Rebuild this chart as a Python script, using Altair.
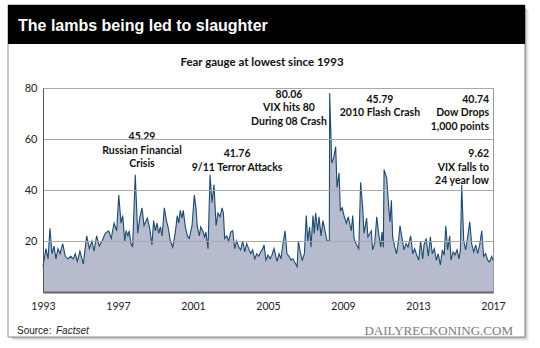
import altair as alt
import pandas as pd

# ---- data (decimal year on the chart axis, VIX level) ----
years = [
    1993.00, 1993.16, 1993.27, 1993.37, 1993.48, 1993.59, 1993.69, 1993.80, 1993.91, 1994.05,
    1994.19, 1994.33, 1994.48, 1994.62, 1994.72, 1994.83, 1994.97, 1995.15, 1995.33, 1995.47,
    1995.61, 1995.72, 1995.86, 1996.00, 1996.15, 1996.32, 1996.50, 1996.64, 1996.79, 1996.93,
    1997.04, 1997.16, 1997.25, 1997.36, 1997.43, 1997.53, 1997.60, 1997.69, 1997.78, 1997.92,
    1998.05, 1998.16, 1998.28, 1998.39, 1998.56, 1998.69, 1998.81, 1998.90, 1998.99, 1999.08,
    1999.17, 1999.26, 1999.35, 1999.47, 1999.58, 1999.67, 1999.79, 1999.92, 2000.06, 2000.16,
    2000.24, 2000.32, 2000.41, 2000.48, 2000.59, 2000.70, 2000.80, 2000.95, 2001.07,
    2001.16, 2001.23, 2001.34, 2001.41, 2001.52, 2001.62, 2001.69, 2001.80, 2001.91, 2002.01,
    2002.12, 2002.23, 2002.33, 2002.44, 2002.55, 2002.62, 2002.69, 2002.80, 2002.90, 2003.01,
    2003.12, 2003.22, 2003.33, 2003.44, 2003.54, 2003.65, 2003.76, 2003.86, 2003.97, 2004.08,
    2004.18, 2004.29, 2004.40, 2004.50, 2004.61, 2004.72, 2004.79, 2004.89, 2005.00, 2005.11,
    2005.21, 2005.32,
    2005.48, 2005.59, 2005.69, 2005.80, 2005.91, 2006.01, 2006.12, 2006.23, 2006.33, 2006.44,
    2006.55, 2006.62, 2006.72, 2006.83, 2006.94, 2007.04, 2007.12, 2007.22, 2007.29, 2007.40,
    2007.47, 2007.54, 2007.65, 2007.72, 2007.83, 2007.93, 2008.04, 2008.15, 2008.27, 2008.29,
    2008.40, 2008.50, 2008.61, 2008.68, 2008.79, 2008.86, 2008.96, 2009.07, 2009.18, 2009.28,
    2009.44, 2009.52, 2009.59, 2009.69, 2009.84, 2009.94, 2010.05, 2010.12, 2010.26, 2010.33,
    2010.51, 2010.58, 2010.69, 2010.80, 2010.90, 2011.01, 2011.08, 2011.15, 2011.19, 2011.33,
    2011.44, 2011.51, 2011.58, 2011.65, 2011.76, 2011.86, 2011.97, 2012.04, 2012.15, 2012.25,
    2012.36, 2012.47, 2012.61, 2012.72, 2012.82, 2012.93, 2013.04, 2013.14, 2013.25, 2013.32,
    2013.44, 2013.55, 2013.66, 2013.76, 2013.87, 2013.98, 2014.08, 2014.19, 2014.30, 2014.40,
    2014.48, 2014.58, 2014.69, 2014.76, 2014.87, 2014.97, 2015.08, 2015.19, 2015.26, 2015.33,
    2015.44, 2015.54, 2015.65, 2015.76, 2015.86, 2015.97, 2016.08, 2016.18, 2016.29, 2016.40,
    2016.50, 2016.61, 2016.72, 2016.82, 2016.93, 2017.00,
]
vix = [
    10, 17, 13, 25, 15, 18, 13, 17, 15, 19, 14, 13, 14, 13, 15, 12, 16, 11, 22, 17,
    20, 16, 22, 18, 20, 23, 24, 21, 27, 24,
    38, 27, 30, 20, 24, 22, 24, 19, 17.6, 46, 23, 29, 33, 26, 29, 25, 18.5, 28, 24, 27,
    23, 25.5, 22, 33, 28, 25.5, 20, 17.6, 23.5, 30, 27, 32, 29, 32, 25.5, 22, 21, 26, 38,
    33, 25.5, 22, 25.5, 24, 21.6, 23.5, 17, 46, 35, 42, 26, 31, 29.5, 33, 31, 21, 22, 20, 23.5,
    24, 17, 20, 17.6, 16.5, 20, 15.7, 19, 17, 15, 16.5, 13, 15, 14, 15.7, 17, 18.5, 12.5, 14.5, 13,
    14.5, 17,
    12, 15, 13, 19, 24, 15, 14, 12.5, 13, 11.5, 10, 20, 15.7, 12.5, 15, 30, 20, 25.5, 17.6, 30,
    23, 31, 24, 29.5, 22, 28, 24, 20, 20, 78, 50.6, 52.5, 57, 41, 46.7, 32, 33, 29.5, 27, 29.5,
    24, 30, 21, 19, 17, 43, 33, 23, 29, 21.6, 24, 16.5, 19, 29.5, 23, 17.6, 23.5, 17.6, 48, 44.7,
    33, 27.5, 36, 21.6, 17.6, 15, 21, 26, 21, 16.5, 19, 17.6, 22, 15, 17, 14.5, 12.5, 20, 13, 18.5,
    21, 14, 21.6, 15, 17, 12.5, 15, 10.6, 16.5, 14.5, 26, 16.5, 22, 12.5, 15.7, 14.5, 16.5, 13, 16.5, 42,
    20, 16.5, 21.6, 27.5, 19, 15.7, 18.5, 15, 18.5, 24, 14, 15, 12.5, 11.8, 14, 12.5,
]

x_ticks = [1993, 1997, 2001, 2005, 2009, 2013, 2017]
y_ticks = [20, 40, 60, 80]

# annotations (anchored in data units)
ann_center_text = ["45.29", "Russian Financial", "Crisis", "41.76", "9/11 Terror Attacks",
                   "80.06", "VIX hits 80", "During 08 Crash", "45.79", "2010 Flash Crash"]
ann_center_year = [1998.28, 1998.28, 1998.28, 2003.35, 2003.35,
                   2006.12, 2006.12, 2006.12, 2010.97, 2010.97]
ann_center_val = [60.8, 55.3, 50.2, 54.1, 48.6, 77.3, 72.2, 66.7, 75.3, 70.2]

ann_right_text = ["40.74", "Dow Drops", "1,000 points", "9.62", "VIX falls to", "24 year low"]
ann_right_year = [2016.79] * 6
ann_right_val = [75.3, 70.2, 64.7, 54.1, 48.6, 43.5]

TITLE = "The lambs being led to slaughter"
SUBTITLE = "Fear gauge at lowest since 1993"

W, H = 450, 204

df = pd.DataFrame({"year": years, "vix": vix})
ann_c = pd.DataFrame({"year": ann_center_year, "val": ann_center_val, "t": ann_center_text})
ann_r = pd.DataFrame({"year": ann_right_year, "val": ann_right_val, "t": ann_right_text})
one = pd.DataFrame({"k": [0]})

xs = alt.Scale(domain=[1993, 2017], nice=False, zero=False)
ys = alt.Scale(domain=[0, 80], nice=False)

area = alt.Chart(df).mark_area(color="#b6bbcd", opacity=1).encode(
    x=alt.X("year:Q", scale=xs, axis=alt.Axis(
        values=x_ticks, format="d", grid=False, ticks=False, domainColor="#666666",
        domainWidth=2, labelPadding=9, labelFont="Lato", labelFontSize=10.5,
        labelColor="#222222", title=None, labelOverlap=False, labelFlush=False, zindex=1)),
    y=alt.Y("vix:Q", scale=ys, axis=alt.Axis(
        values=y_ticks, grid=True, gridColor="#a9a9a9", ticks=False, domainColor="#555555",
        labelPadding=6, labelFont="Lato", labelFontSize=11, labelColor="#222222",
        title=None, zindex=1)),
)
line = alt.Chart(df).mark_line(color="#1c4a71", strokeWidth=1.1).encode(
    x="year:Q", y="vix:Q")

txt_c = alt.Chart(ann_c).mark_text(font="Lato", fontWeight="bold", fontSize=10.5,
                                   align="center", baseline="middle", color="#111111").encode(
    x="year:Q", y="val:Q", text="t:N")
txt_r = alt.Chart(ann_r).mark_text(font="Lato", fontWeight="bold", fontSize=10.5,
                                   align="right", baseline="middle", color="#111111").encode(
    x="year:Q", y="val:Q", text="t:N")

# ---- decorations (card, shadow, header, footer) in pixel space ----
deco = []
for i, op in enumerate([0.30, 0.18, 0.10, 0.05]):
    deco.append(alt.Chart(one).mark_rect(color="#000000", opacity=op).encode(
        x=alt.value(482 + i), x2=alt.value(483 + i), y=alt.value(-80 + i), y2=alt.value(250 + i)))
    deco.append(alt.Chart(one).mark_rect(color="#000000", opacity=op).encode(
        x=alt.value(-32 + i), x2=alt.value(482 + i), y=alt.value(249 + i), y2=alt.value(250 + i)))
card = alt.Chart(one).mark_rect(fillOpacity=0, stroke="#8c8c8c", strokeWidth=1).encode(
    x=alt.value(-35), x2=alt.value(482), y=alt.value(-83), y2=alt.value(249))
header = alt.Chart(one).mark_rect(color="#000000").encode(
    x=alt.value(-35), x2=alt.value(482), y=alt.value(-83), y2=alt.value(-44))
title = alt.Chart(one).mark_text(text=TITLE, font="Liberation Sans", fontWeight="bold",
                                 fontSize=16, color="#ffffff", align="left",
                                 baseline="middle").encode(x=alt.value(-25), y=alt.value(-62))
subtitle = alt.Chart(one).mark_text(text=SUBTITLE, font="Lato", fontWeight="bold",
                                    fontSize=11.5, color="#111111", align="center",
                                    baseline="middle").encode(x=alt.value(219), y=alt.value(-25))
src1 = alt.Chart(one).mark_text(text="Source:", font="Liberation Sans", fontSize=10,
                                color="#222222", align="left", baseline="middle").encode(
    x=alt.value(-26), y=alt.value(243))
src2 = alt.Chart(one).mark_text(text="Factset", font="Liberation Sans", fontSize=10,
                                fontStyle="italic", color="#222222", align="left",
                                baseline="middle").encode(x=alt.value(13), y=alt.value(243))
brand = alt.Chart(one).mark_text(text="DAILYRECKONING.COM", font="Liberation Serif",
                                 fontSize=13, color="#7a7a7a", align="right",
                                 baseline="middle").encode(x=alt.value(470), y=alt.value(243))

chart = alt.layer(
    *deco, card, header, title, subtitle, area, line, txt_c, txt_r, src1, src2, brand
).properties(
    width=W, height=H,
    padding={"left": 43, "top": 88, "right": 47, "bottom": 56},
    autosize=alt.AutoSizeParams(type="none"),
    background="#ffffff",
).configure_view(stroke="#9a9a9a", strokeWidth=1)

chart.save("out.html", embed_options={"renderer": "svg", "actions": False})
